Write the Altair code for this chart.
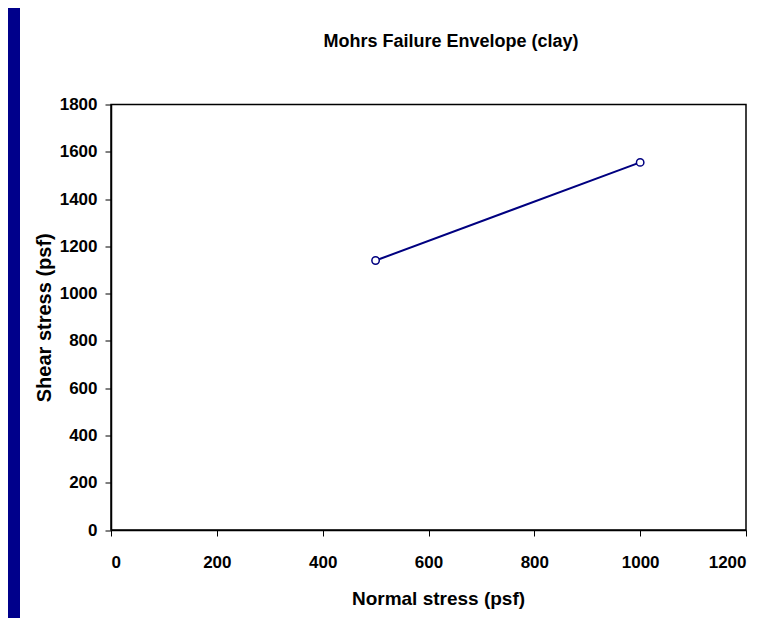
import altair as alt
import pandas as pd

normal_stress = [500, 1000]
shear_stress = [1140, 1555]
x_ticks = [0, 200, 400, 600, 800, 1000, 1200]
y_ticks = [0, 200, 400, 600, 800, 1000, 1200, 1400, 1600, 1800]
chart_title = "Mohrs Failure Envelope (clay)"

df = pd.DataFrame({"normal": normal_stress, "shear": shear_stress})

FONT = "Liberation Sans"
NAVY = "#000080"
W, H = 635, 425.5

base = alt.Chart(df)
one = alt.Chart(pd.DataFrame({"t": [chart_title]}))

border = one.mark_rect(color="#00008B", clip=False).encode(
    x=alt.value(-103), x2=alt.value(-91), y=alt.value(-96.5), y2=alt.value(H + 100)
)

title = one.mark_text(font=FONT, fontSize=18, fontWeight="bold", color="black",
                      align="center", baseline="middle").encode(
    text="t:N", x=alt.value(340), y=alt.value(-62.5)
)

line = base.mark_line(color=NAVY, strokeWidth=2).encode(
    x=alt.X("normal:Q", scale=alt.Scale(domain=[0, 1200], nice=False),
            axis=alt.Axis(values=x_ticks, format="d", title="Normal stress (psf)", grid=False,
                          labelPadding=18, titlePadding=19, titleX=327, titleAlign="center",
                          titleFontSize=19)),
    y=alt.Y("shear:Q", scale=alt.Scale(domain=[0, 1800], nice=False),
            axis=alt.Axis(values=y_ticks, format="d", title="Shear stress (psf)", grid=False,
                          labelPadding=8, titlePadding=5, titleFontSize=20)),
)

points = base.mark_point(shape="circle", filled=True, fill="white", stroke=NAVY,
                         strokeWidth=1.5, size=55, opacity=1).encode(
    x="normal:Q", y="shear:Q"
)

chart = alt.layer(border, title, line, points).properties(
    width=W, height=H,
    autosize=alt.AutoSizeParams(type="none"),
    padding={"left": 103, "top": 96.5, "right": 28, "bottom": 88},
    background="white",
).configure_view(stroke="black", strokeWidth=1.5).configure_axis(
    domainColor="black", domainWidth=1.5, tickColor="black", tickSize=6, tickWidth=1,
    labelFont=FONT, labelFontSize=17, labelFontWeight="bold", labelColor="black",
    titleFont=FONT, titleFontSize=17, titleFontWeight="bold", titleColor="black",
)

chart.save("out.html", embed_options={"renderer": "svg", "actions": False})
